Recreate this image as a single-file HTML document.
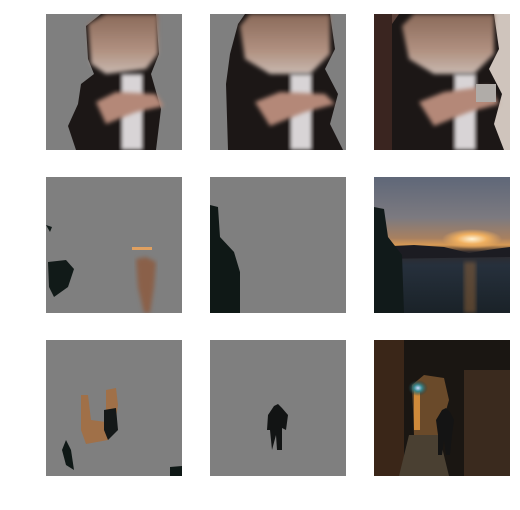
<!DOCTYPE html>
<html><head><meta charset="utf-8"><style>
html,body{margin:0;padding:0;background:#fff;width:520px;height:510px;overflow:hidden}
svg{display:block}
</style></head><body>
<svg width="520" height="510" viewBox="0 0 520 510">
<defs>
<filter id="blur" x="-10%" y="-10%" width="120%" height="120%"><feGaussianBlur stdDeviation="2"/></filter>
<linearGradient id="sky" x1="0" y1="0" x2="0" y2="1">
<stop offset="0" stop-color="#5f6778"/><stop offset="0.3" stop-color="#7c7a80"/><stop offset="0.45" stop-color="#a88060"/><stop offset="0.5" stop-color="#d79a55"/><stop offset="0.55" stop-color="#302a2c"/><stop offset="0.65" stop-color="#26303c"/><stop offset="1" stop-color="#1a2228"/></linearGradient>
<linearGradient id="hair" x1="0" y1="0" x2="0" y2="1">
<stop offset="0" stop-color="#8a6a5a"/><stop offset="0.6" stop-color="#b09080"/><stop offset="1" stop-color="#c8b8b0"/></linearGradient>
<radialGradient id="sun" cx="0.5" cy="0.5" r="0.5"><stop offset="0" stop-color="#fff3d6"/><stop offset="0.5" stop-color="#f0b060"/><stop offset="1" stop-color="#f0b060" stop-opacity="0"/></radialGradient>
<radialGradient id="lamp" cx="0.5" cy="0.5" r="0.5"><stop offset="0" stop-color="#cdf"/><stop offset="0.4" stop-color="#3a8a90"/><stop offset="1" stop-color="#1a3a40" stop-opacity="0"/></radialGradient>
<clipPath id="c"><rect width="136" height="136"/></clipPath>
</defs>

<!-- Row 1 -->
<g transform="translate(46,14)" clip-path="url(#c)">
<rect width="136" height="136" fill="#7f7f7f"/>
<path d="M40 12 L55 0 L110 0 L113 40 L105 60 L115 95 L110 136 L30 136 L22 112 L32 90 L35 70 L48 60 L42 45Z" fill="#1c1716"/>
<path d="M42 10 L60 0 L112 0 L112 40 L100 55 L60 60 L45 50Z" fill="url(#hair)" filter="url(#blur)"/>
<rect x="75" y="60" width="22" height="76" fill="#d8d4d6" filter="url(#blur)"/>
<path d="M50 88 L70 78 L110 80 L118 92 L90 98 L60 110Z" fill="#b48878" filter="url(#blur)"/>
</g>
<g transform="translate(210,14)" clip-path="url(#c)">
<rect width="136" height="136" fill="#7f7f7f"/>
<path d="M28 10 L35 0 L120 0 L125 35 L115 55 L128 80 L120 110 L133 136 L18 136 L16 70 L20 40Z" fill="#1c1716"/>
<path d="M30 12 L40 0 L120 0 L120 40 L100 60 L60 60 L35 45Z" fill="url(#hair)" filter="url(#blur)"/>
<rect x="80" y="60" width="22" height="76" fill="#d8d4d6" filter="url(#blur)"/>
<path d="M45 88 L70 78 L115 80 L125 90 L95 98 L60 112Z" fill="#b48878" filter="url(#blur)"/>
</g>
<g transform="translate(374,14)" clip-path="url(#c)">
<rect width="136" height="136" fill="#5a4038"/>
<rect width="18" height="136" fill="#3a2520"/>
<rect x="110" width="26" height="136" fill="#cfc4bc"/>
<path d="M18 10 L25 0 L120 0 L125 35 L115 55 L128 80 L120 110 L130 136 L18 136Z" fill="#1c1716"/>
<path d="M28 12 L40 0 L120 0 L120 40 L100 60 L60 60 L35 45Z" fill="url(#hair)" filter="url(#blur)"/>
<rect x="80" y="60" width="22" height="76" fill="#d8d4d6" filter="url(#blur)"/>
<path d="M45 88 L70 78 L115 72 L125 90 L95 98 L60 112Z" fill="#b48878" filter="url(#blur)"/>
<rect x="102" y="70" width="20" height="18" fill="#b0aca8"/>
</g>

<!-- Row 2 -->
<g transform="translate(46,177)" clip-path="url(#c)">
<rect width="136" height="136" fill="#7f7f7f"/>
<path d="M2 85 L20 83 L28 92 L22 110 L8 120 L3 110Z" fill="#111a18"/>
<path d="M0 48 L6 50 L4 55Z" fill="#111a18"/>
<path d="M90 82 L100 80 L110 85 L108 110 L104 136 L98 136 L92 110Z" fill="#8a6048" filter="url(#blur)"/>
<rect x="86" y="70" width="20" height="3" fill="#e0a060"/>
</g>
<g transform="translate(210,177)" clip-path="url(#c)">
<rect width="136" height="136" fill="#7f7f7f"/>
<path d="M0 28 L8 30 L10 60 L24 75 L30 95 L30 136 L0 136Z" fill="#0f1816"/>
</g>
<g transform="translate(374,177)" clip-path="url(#c)">
<rect width="136" height="136" fill="url(#sky)"/>
<ellipse cx="98" cy="62" rx="30" ry="10" fill="url(#sun)"/>
<path d="M0 70 L40 68 L70 70 L95 76 L120 72 L136 70 L136 80 L0 82Z" fill="#1c1c22"/>
<rect x="90" y="85" width="12" height="51" fill="#a06a38" opacity="0.45" filter="url(#blur)"/>
<path d="M0 30 L10 32 L14 60 L28 78 L30 136 L0 136Z" fill="#111a1a"/>
</g>

<!-- Row 3 -->
<g transform="translate(46,340)" clip-path="url(#c)">
<rect width="136" height="136" fill="#7f7f7f"/>
<path d="M35 55 L42 55 L45 80 L60 82 L60 50 L70 48 L72 65 L68 90 L62 100 L40 104 L35 90Z" fill="#a07048"/>
<path d="M58 70 L70 68 L72 90 L62 100 L58 90Z" fill="#141818"/>
<path d="M20 100 L25 110 L28 130 L20 125 L16 110Z" fill="#0f1816"/>
<path d="M124 127 L136 126 L136 136 L124 136Z" fill="#0f1816"/>
</g>
<g transform="translate(210,340)" clip-path="url(#c)">
<rect width="136" height="136" fill="#7f7f7f"/>
<path d="M64 66 L68 64 L72 68 L78 75 L76 90 L72 88 L72 110 L67 110 L66 95 L62 110 L60 90 L57 90 L58 75Z" fill="#121414"/>
</g>
<g transform="translate(374,340)" clip-path="url(#c)">
<rect width="136" height="136" fill="#1a1612"/>
<rect width="30" height="136" fill="#3a2618"/>
<rect x="90" y="30" width="46" height="106" fill="#3a2a1e"/>
<path d="M38 45 L50 35 L70 38 L75 60 L65 95 L40 95Z" fill="#6a4a2a"/>
<rect x="40" y="50" width="6" height="40" fill="#d08a3a"/>
<ellipse cx="44" cy="48" rx="10" ry="8" fill="url(#lamp)"/>
<path d="M35 95 L65 95 L75 136 L25 136Z" fill="#4a4032"/>
<path d="M68 70 L72 68 L76 72 L80 80 L78 95 L76 115 L72 115 L70 100 L68 115 L64 115 L64 95 L62 80Z" fill="#141414"/>
</g>
</svg>
</body></html>
